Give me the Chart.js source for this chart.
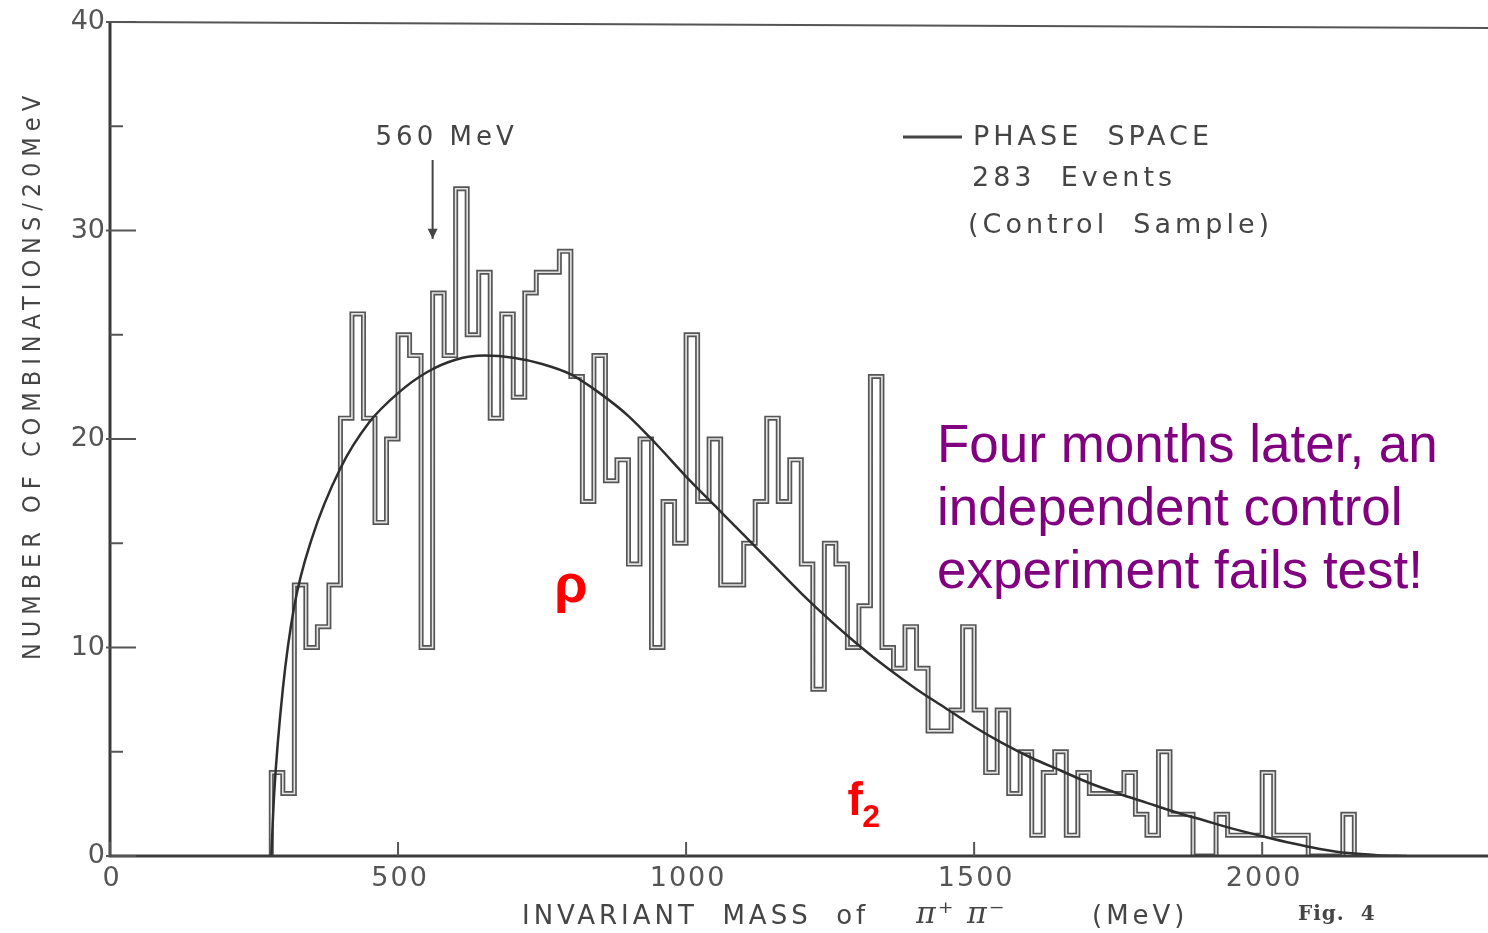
<!DOCTYPE html>
<html>
<head>
<meta charset="utf-8">
<script src="https://cdn.jsdelivr.net/npm/chart.js@4.4.1/dist/chart.umd.min.js"></script>
<style>
html, body { margin: 0; padding: 0; background: #fff; }
#wrap { position: relative; width: 1488px; height: 933px; }
</style>
</head>
<body>
<div id="wrap"><canvas id="massChart" width="1488" height="933"></canvas></div>
<script>
// pi+ pi- invariant mass, 20 MeV bins starting at threshold
var binLow = 280;
var binWidth = 20;
var counts = [
    4, 3, 13, 10, 11, 13, 21, 26, 21, 16,
    20, 25, 24, 10, 27, 24, 32, 25, 28, 21,
    26, 22, 27, 28, 28, 29, 23, 17, 24, 18,
    19, 14, 20, 10, 17, 15, 25, 17, 20, 13,
    13, 15, 17, 21, 17, 19, 14, 8, 15, 14,
    10, 12, 23, 10, 9, 11, 9, 6, 6, 7,
    11, 7, 4, 7, 3, 5, 1, 4, 5, 1,
    4, 3, 3, 3, 4, 2, 1, 5, 2, 2,
    0, 0, 2, 1, 1, 1, 4, 1, 1, 1,
    0, 0, 0, 2, 0
];

// phase space curve
var psMass = [280, 285, 300, 320, 350, 400, 450, 500, 550, 600, 650, 700, 750, 800, 850, 900, 950,
    1000, 1050, 1100, 1150, 1200, 1250, 1300, 1350, 1400, 1450, 1500, 1550, 1600, 1650, 1700,
    1750, 1800, 1850, 1900, 1950, 2000, 2050, 2100, 2150, 2200, 2250];
var psValue = [0, 3, 8, 12, 15.2, 18.6, 20.8, 22.2, 23.2, 23.8, 24, 23.9, 23.6, 23.1, 22.2, 21.1, 19.7,
    18.2, 16.8, 15.4, 14, 12.6, 11.3, 10.1, 9, 8, 7.1, 6.2, 5.4, 4.7, 4.1, 3.5,
    3, 2.55, 2.1, 1.7, 1.3, 0.95, 0.62, 0.34, 0.14, 0.04, 0];

var xTickValues = [0, 500, 1000, 1500, 2000];
var yTickValues = [0, 10, 20, 30, 40];
var yMinorValues = [5, 15, 25, 35];

function histPoints() {
    var pts = [{ x: binLow, y: 0 }];
    for (var i = 0; i < counts.length; i++) {
        pts.push({ x: binLow + i * binWidth, y: counts[i] });
    }
    pts.push({ x: binLow + counts.length * binWidth, y: 0 });
    return pts;
}

function psPoints() {
    return psMass.map(function (m, i) { return { x: m, y: psValue[i] }; });
}

var ink = '#454545';

var decorations = {
    id: 'decorations',
    afterDraw: function (chart) {
        var ctx = chart.ctx;
        var xs = chart.scales.x, ys = chart.scales.y;
        var a = chart.chartArea;
        ctx.save();

        // frame
        ctx.strokeStyle = '#3a3a3a';
        ctx.lineWidth = 3;
        ctx.beginPath();
        ctx.moveTo(a.left, a.top);
        ctx.lineTo(a.left, a.bottom);
        ctx.lineTo(a.right, a.bottom);
        ctx.stroke();
        ctx.lineWidth = 2;
        ctx.strokeStyle = '#555';
        ctx.beginPath();
        ctx.moveTo(a.left, a.top);
        ctx.lineTo(a.right, a.top + 6);
        ctx.stroke();

        // inside ticks
        ctx.lineWidth = 2;
        ctx.strokeStyle = '#555';
        yTickValues.forEach(function (v) {
            var y = ys.getPixelForValue(v);
            ctx.beginPath(); ctx.moveTo(a.left - 4, y); ctx.lineTo(a.left + 26, y); ctx.stroke();
        });
        yMinorValues.forEach(function (v) {
            var y = ys.getPixelForValue(v);
            ctx.beginPath(); ctx.moveTo(a.left, y); ctx.lineTo(a.left + 13, y); ctx.stroke();
        });
        xTickValues.forEach(function (v) {
            var x = xs.getPixelForValue(v);
            ctx.beginPath(); ctx.moveTo(x, a.bottom); ctx.lineTo(x, a.bottom - 14); ctx.stroke();
        });

        // x tick labels
        ctx.fillStyle = '#555';
        ctx.textAlign = 'center';
        ctx.textBaseline = 'middle';
        ctx.font = '27px "DejaVu Sans"';
        ctx.letterSpacing = '2px';
        xTickValues.forEach(function (v) {
            ctx.fillText(String(v), xs.getPixelForValue(v) + 2, a.bottom + 23);
        });

        ctx.fillStyle = ink;

        // 560 MeV arrow
        var ax = xs.getPixelForValue(560);
        ctx.font = '26px "DejaVu Sans"';
        ctx.letterSpacing = '4px';
        ctx.textAlign = 'center';
        ctx.fillText('560 MeV', ax + 14, 138);
        var tip = ys.getPixelForValue(29.6);
        ctx.lineWidth = 2;
        ctx.strokeStyle = ink;
        ctx.beginPath(); ctx.moveTo(ax, 160); ctx.lineTo(ax, tip); ctx.stroke();
        ctx.beginPath();
        ctx.moveTo(ax - 5, tip - 10); ctx.lineTo(ax, tip); ctx.lineTo(ax + 5, tip - 10);
        ctx.closePath(); ctx.fill();

        // legend
        ctx.lineWidth = 3;
        ctx.beginPath(); ctx.moveTo(903, 137); ctx.lineTo(962, 137); ctx.stroke();
        ctx.textAlign = 'left';
        ctx.font = '27px "DejaVu Sans"';
        ctx.letterSpacing = '4px';
        ctx.fillText('PHASE  SPACE', 973, 138);
        ctx.fillText('283  Events', 972, 179);
        ctx.fillText('(Control  Sample)', 968, 226);

        // x title
        ctx.font = '26px "DejaVu Sans"';
        ctx.letterSpacing = '4px';
        ctx.fillText('INVARIANT  MASS  of', 522, 917);
        ctx.font = 'italic 30px "DejaVu Serif"';
        ctx.letterSpacing = '2px';
        ctx.fillText('\u03C0\u207A \u03C0\u207B', 916, 915);
        ctx.font = '26px "DejaVu Sans"';
        ctx.letterSpacing = '4px';
        ctx.fillText('(MeV)', 1092, 917);
        ctx.font = 'bold 20px "DejaVu Serif"';
        ctx.letterSpacing = '1px';
        ctx.fillText('Fig.  4', 1298, 915);

        // y title
        ctx.save();
        ctx.translate(33, 375);
        ctx.rotate(-Math.PI / 2);
        ctx.textAlign = 'center';
        ctx.font = '25px "DejaVu Sans Condensed", "DejaVu Sans"';
        ctx.letterSpacing = '6px';
        ctx.fillText('NUMBER OF COMBINATIONS/20MeV', 0, 0);
        ctx.restore();
        ctx.letterSpacing = '0px';

        // resonance labels
        ctx.fillStyle = '#ff0000';
        ctx.textAlign = 'center';
        ctx.textBaseline = 'alphabetic';
        ctx.font = 'bold 54px "Liberation Sans"';
        ctx.fillText('\u03C1', xs.getPixelForValue(800), ys.getPixelForValue(12.2));
        ctx.textAlign = 'left';
        ctx.font = 'bold 46px "Liberation Sans"';
        ctx.fillText('f', xs.getPixelForValue(1280), ys.getPixelForValue(1.95));
        ctx.font = 'bold 32px "Liberation Sans"';
        ctx.fillText('2', xs.getPixelForValue(1306), ys.getPixelForValue(1.4));

        // comment text
        ctx.fillStyle = '#800080';
        ctx.font = '53px "Liberation Sans"';
        ctx.fillText('Four months later, an', 937, 462);
        ctx.fillText('independent control', 937, 525);
        ctx.fillText('experiment fails test!', 937, 588);

        ctx.restore();
    }
};

new Chart(document.getElementById('massChart').getContext('2d'), {
    type: 'line',
    data: {
        datasets: [{
            label: 'Phase space',
            data: psPoints(),
            borderColor: '#2e2e2e',
            borderWidth: 2.5,
            pointRadius: 0,
            cubicInterpolationMode: 'monotone',
            fill: false,
            order: 0
        }, {
            label: 'Control sample inner',
            data: histPoints(),
            stepped: true,
            borderColor: '#e4e4e4',
            borderWidth: 1.6,
            pointRadius: 0,
            fill: false,
            order: 1
        }, {
            label: 'Control sample',
            data: histPoints(),
            stepped: true,
            borderColor: '#555555',
            borderWidth: 5,
            pointRadius: 0,
            fill: false,
            order: 2
        }]
    },
    options: {
        responsive: false,
        animation: false,
        layout: { padding: { top: 22, right: 0, left: 0, bottom: 0 } },
        plugins: {
            legend: { display: false },
            tooltip: { enabled: false }
        },
        scales: {
            x: {
                type: 'linear',
                min: 0,
                max: 2392,
                grid: { display: false, drawTicks: false },
                border: { display: false },
                afterFit: function (scale) {
                    scale.height = 77;
                    scale.paddingRight = 0;
                    scale.paddingLeft = 0;
                },
                ticks: { display: false }
            },
            y: {
                min: 0,
                max: 40,
                grid: { display: false, drawTicks: false },
                border: { display: false },
                afterFit: function (scale) { scale.width = 110; },
                ticks: {
                    stepSize: 10,
                    padding: 5,
                    color: '#555',
                    font: { family: 'DejaVu Sans', size: 27 },
                    callback: function (v) { return yTickValues.indexOf(Number(v)) >= 0 ? String(v) : ''; }
                }
            }
        }
    },
    plugins: [decorations]
});
</script>
</body>
</html>
